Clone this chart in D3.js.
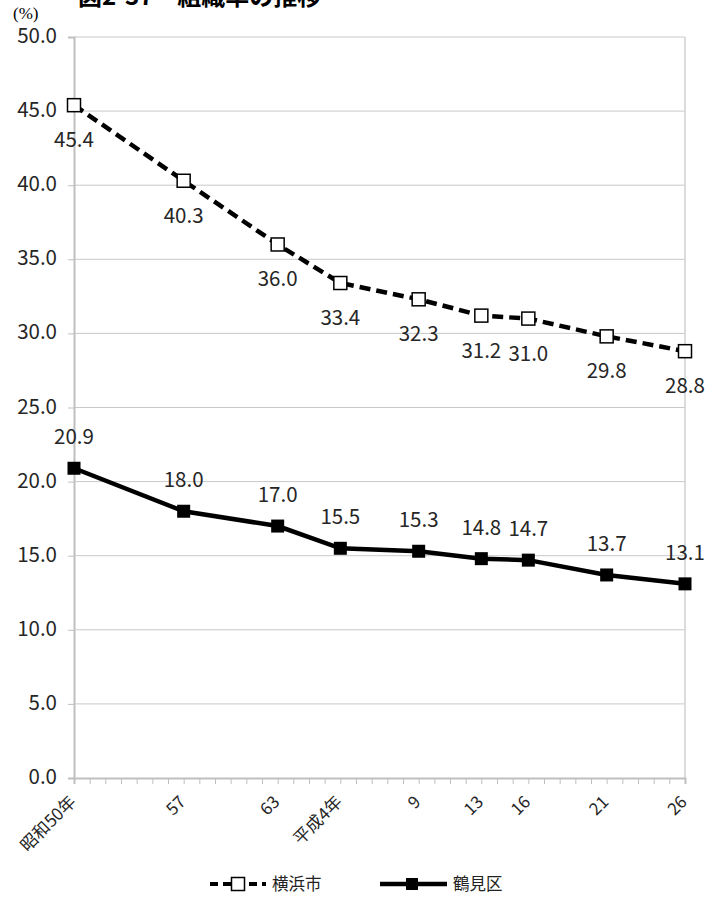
<!DOCTYPE html>
<html><head><meta charset="utf-8">
<script src="https://cdn.jsdelivr.net/npm/d3@7"></script>
<style>body{margin:0;background:#fff}svg{display:block}</style>
</head><body>
<svg id="c" width="713" height="910"></svg>
<script>
const years = [1975, 1982, 1988, 1992, 1997, 2001, 2004, 2009, 2014];
const yearLabels = ["昭和50年", "57", "63", "平成4年", "9", "13", "16", "21", "26"];
const yokohama = [45.4, 40.3, 36.0, 33.4, 32.3, 31.2, 31.0, 29.8, 28.8];
const tsurumi = [20.9, 18.0, 17.0, 15.5, 15.3, 14.8, 14.7, 13.7, 13.1];
const yTicks = [0, 5, 10, 15, 20, 25, 30, 35, 40, 45, 50];
const seriesNames = ["横浜市", "鶴見区"];
const title = "図2-37　組織率の推移";

const svg = d3.select("#c");
const font = "'Noto Sans CJK JP','Noto Sans',sans-serif";
const L = 74, R = 685, T = 37, B = 778;
const x = d3.scaleLinear().domain([1975, 2014]).range([L, R]);
const y = d3.scaleLinear().domain([0, 50]).range([B, T]);

// title (cropped at top, as in the reference)
svg.append("text").attr("x", 78).attr("y", 5).attr("font-family", font)
  .attr("font-size", 24).attr("font-weight", "bold").attr("fill", "#000").text(title);

// gridlines
svg.append("g").selectAll("line").data(yTicks.filter(d => d > 0)).join("line")
  .attr("x1", L).attr("x2", R).attr("y1", d => y(d)).attr("y2", d => y(d))
  .attr("stroke", "#c9c9c9").attr("stroke-width", 1);

// y axis
const ya = svg.append("g").attr("transform", `translate(${L},0)`)
  .call(d3.axisLeft(y).tickValues(yTicks).tickFormat(d3.format(".1f")).tickSize(6).tickPadding(11));
ya.select(".domain").attr("stroke", "#bfbfbf").attr("stroke-width", 2);
ya.selectAll(".tick line").attr("stroke", "#bfbfbf");
ya.selectAll("text").attr("font-family", font).attr("font-size", 20.5).attr("fill", "#262626").attr("y", -1);

// right border
svg.append("line").attr("x1", R).attr("x2", R).attr("y1", T).attr("y2", B)
  .attr("stroke", "#d0d0d0").attr("stroke-width", 1.5);

// x axis
const xa = svg.append("g").attr("transform", `translate(0,${B})`)
  .call(d3.axisBottom(x).tickValues(d3.range(1975, 2015)).tickFormat("").tickSize(6));
xa.select(".domain").attr("stroke", "#bfbfbf").attr("stroke-width", 2);
xa.selectAll(".tick line").attr("stroke", "#bfbfbf");

svg.append("g").selectAll("text").data(years).join("text")
  .attr("transform", d => `translate(${x(d) + 3},${B + 25}) rotate(-45)`)
  .attr("text-anchor", "end").attr("font-family", font).attr("font-size", 17).attr("fill", "#262626")
  .text((d, i) => yearLabels[i]);

// y unit
svg.append("text").attr("x", 13).attr("y", 19).attr("font-family", "'Liberation Serif',serif")
  .attr("font-size", 17).attr("fill", "#000").text("(%)");

const line = d3.line().x((d, i) => x(years[i])).y(d => y(d));

// Yokohama dashed
svg.append("path").datum(yokohama).attr("d", line).attr("fill", "none")
  .attr("stroke", "#000").attr("stroke-width", 4.5).attr("stroke-dasharray", "11,6");
svg.append("g").selectAll("rect").data(yokohama).join("rect")
  .attr("x", (d, i) => x(years[i]) - 6.5).attr("y", d => y(d) - 6.5)
  .attr("width", 13).attr("height", 13).attr("fill", "#fff").attr("stroke", "#000").attr("stroke-width", 1.5);
svg.append("g").selectAll("text").data(yokohama).join("text")
  .attr("x", (d, i) => x(years[i])).attr("y", d => y(d) + 42)
  .attr("text-anchor", "middle").attr("font-family", font).attr("font-size", 20.5).attr("fill", "#262626")
  .text(d => d.toFixed(1));

// Tsurumi solid
svg.append("path").datum(tsurumi).attr("d", line).attr("fill", "none")
  .attr("stroke", "#000").attr("stroke-width", 4.5);
svg.append("g").selectAll("rect").data(tsurumi).join("rect")
  .attr("x", (d, i) => x(years[i]) - 6.5).attr("y", d => y(d) - 6.5)
  .attr("width", 13).attr("height", 13).attr("fill", "#000");
svg.append("g").selectAll("text").data(tsurumi).join("text")
  .attr("x", (d, i) => x(years[i])).attr("y", d => y(d) - 24)
  .attr("text-anchor", "middle").attr("font-family", font).attr("font-size", 20.5).attr("fill", "#262626")
  .text(d => d.toFixed(1));

// legend
const ly = 884;
const lg = svg.append("g");
lg.append("line").attr("x1", 210).attr("x2", 266).attr("y1", ly).attr("y2", ly)
  .attr("stroke", "#000").attr("stroke-width", 4).attr("stroke-dasharray", "8,5");
lg.append("rect").attr("x", 238 - 6.5).attr("y", ly - 6.5).attr("width", 13).attr("height", 13)
  .attr("fill", "#fff").attr("stroke", "#000").attr("stroke-width", 1.5);
lg.append("text").attr("x", 272).attr("y", ly + 6).attr("font-family", font).attr("font-size", 16.5)
  .attr("fill", "#222").text(seriesNames[0]);
lg.append("line").attr("x1", 380).attr("x2", 447).attr("y1", ly).attr("y2", ly)
  .attr("stroke", "#000").attr("stroke-width", 4.5);
lg.append("rect").attr("x", 412 - 6).attr("y", ly - 6).attr("width", 12).attr("height", 12).attr("fill", "#000");
lg.append("text").attr("x", 453).attr("y", ly + 6).attr("font-family", font).attr("font-size", 16.5)
  .attr("fill", "#222").text(seriesNames[1]);
</script>
</body></html>
